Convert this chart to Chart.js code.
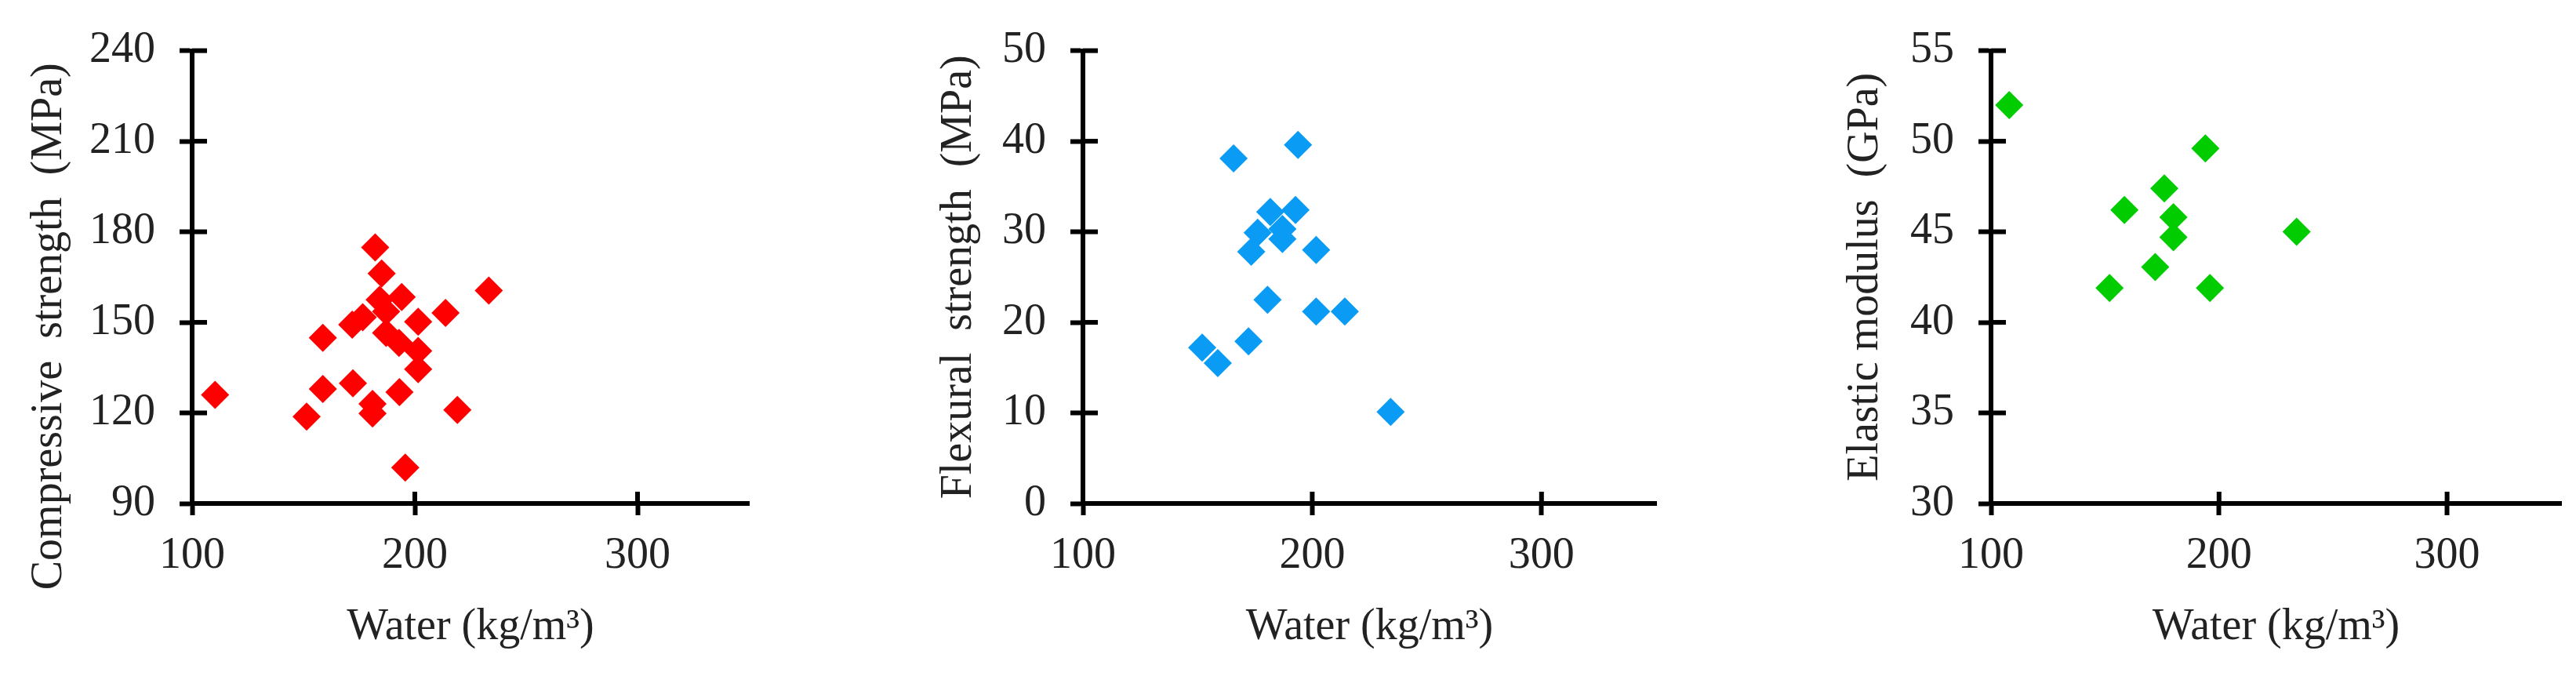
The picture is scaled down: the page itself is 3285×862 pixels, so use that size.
<!DOCTYPE html>
<html>
<head>
<meta charset="utf-8">
<script src="https://cdn.jsdelivr.net/npm/chart.js@4/dist/chart.umd.min.js"></script>
<style>
  html, body { margin: 0; padding: 0; background: #fff; }
  body { width: 3285px; height: 862px; position: relative; overflow: hidden; }
  .panel { position: absolute; top: 0; height: 862px; }
</style>
</head>
<body>
<div class="panel" id="p1" style="left:0px;width:1000px;"><canvas id="c1"></canvas></div>
<div class="panel" id="p2" style="left:1100px;width:1050px;"><canvas id="c2"></canvas></div>
<div class="panel" id="p3" style="left:2250px;width:1035px;"><canvas id="c3"></canvas></div>
<script>
// ---- Data ----
const xTicks = [100, 200, 300];
const xTitle = 'Water (kg/m³)';

const water1 = [110.3, 151.4, 158.7, 158.7, 172.2, 171.9, 176.6, 181.0, 181.0, 193.1, 195.7, 219.1,
                201.5, 201.5, 201.5, 213.8, 233.2, 187.1, 192.9, 182.2, 185.1, 184.2, 194.1, 187.1];
const compressive = [126.0, 118.8, 127.9, 144.9, 129.8, 149.2, 151.7, 123.0, 119.8, 126.9, 101.9, 121.0,
                     134.5, 140.5, 150.2, 153.1, 160.5, 146.5, 143.2, 174.8, 166.2, 157.5, 158.4, 153.6];
const yTicks1 = [90, 120, 150, 180, 210, 240];
// trailing no-break spaces keep the title placed lower, as in the reference
const yTitle1 = 'Compressive  strength  (MPa)\u00A0\u00A0\u00A0\u00A0\u00A0\u00A0\u00A0\u00A0\u00A0';

const water2 = [165.7, 193.8, 181.7, 192.7, 176.2, 187.0, 187.0, 173.4, 201.7, 180.5, 201.7, 214.2,
                172.2, 152.0, 158.8, 234.2];
const flexural = [38.1, 39.6, 32.2, 32.4, 29.9, 30.3, 29.2, 27.8, 28.0, 22.5, 21.2, 21.2,
                  17.9, 17.2, 15.5, 10.1];
const yTicks2 = [0, 10, 20, 30, 40, 50];
const yTitle2 = 'Flexural  strength  (MPa)';

const water3 = [108.0, 194.0, 176.0, 158.5, 180.0, 180.0, 234.0, 172.0, 152.0, 196.0];
const elastic = [52.0, 49.6, 47.4, 46.2, 45.8, 44.7, 45.0, 43.05, 41.9, 41.9];
const yTicks3 = [30, 35, 40, 45, 50, 55];
const yTitle3 = 'Elastic modulus  (GPa)';

const xMax = 350;

// ---- Styling ----
const FONT = '"Liberation Serif", "Times New Roman", serif';
const TEXT = '#222222';
const LINE = '#000000';

const innerTicks = {
  id: 'innerTicks',
  afterDraw(chart) {
    const ctx = chart.ctx;
    const area = chart.chartArea;
    ctx.save();
    ctx.strokeStyle = LINE;
    ctx.lineWidth = 6;
    const xs = chart.scales.x, ys = chart.scales.y;
    xs.ticks.forEach(t => {
      const px = xs.getPixelForValue(t.value);
      ctx.beginPath(); ctx.moveTo(px, area.bottom); ctx.lineTo(px, area.bottom - 15); ctx.stroke();
    });
    ys.ticks.forEach(t => {
      const py = ys.getPixelForValue(t.value);
      ctx.beginPath(); ctx.moveTo(area.left, py); ctx.lineTo(area.left + 19, py); ctx.stroke();
    });
    ctx.restore();
  }
};

function makeChart(id, xs, ys, yTicks, yTitle, color, padLeft, yWidth, padRight) {
  const pts = xs.map((x, i) => ({ x: x, y: ys[i] }));
  return new Chart(document.getElementById(id), {
    type: 'scatter',
    data: { datasets: [{ data: pts, pointStyle: 'rectRot', pointRadius: 18, pointHoverRadius: 18,
                         backgroundColor: color, borderWidth: 0 }] },
    options: {
      responsive: true, maintainAspectRatio: false, animation: false, devicePixelRatio: 1,
      layout: { padding: { left: padLeft, right: padRight, top: 53, bottom: 0 } },
      plugins: { legend: { display: false }, tooltip: { enabled: false } },
      scales: {
        x: {
          type: 'linear', min: xTicks[0], max: xMax,
          afterBuildTicks: s => { s.ticks = xTicks.map(v => ({ value: v })); },
          afterFit: s => { s.height = 220; },
          grid: { drawOnChartArea: false, drawTicks: true, tickLength: 15, tickWidth: 6, tickColor: LINE },
          border: { display: true, color: LINE, width: 6 },
          ticks: { padding: 19, color: TEXT, font: { family: FONT, size: 56 }, maxRotation: 0 },
          title: { display: true, text: xTitle, color: TEXT, font: { family: FONT, size: 56 },
                   padding: { top: 0, bottom: 28 } }
        },
        y: {
          type: 'linear', min: yTicks[0], max: yTicks[yTicks.length - 1],
          afterBuildTicks: s => { s.ticks = yTicks.map(v => ({ value: v })); },
          afterFit: s => { s.width = yWidth; },
          grid: { drawOnChartArea: false, drawTicks: true, tickLength: 16, tickWidth: 6, tickColor: LINE },
          border: { display: true, color: LINE, width: 6 },
          ticks: { padding: 31, color: TEXT, font: { family: FONT, size: 56 } },
          title: { display: true, text: yTitle, color: TEXT, font: { family: FONT, size: 56 },
                   padding: { top: 0, bottom: 0 } }
        }
      }
    },
    plugins: [innerTicks]
  });
}

makeChart('c1', water1, compressive, yTicks1, yTitle1, '#FF0000', 30, 215, 45);
makeChart('c2', water2, flexural, yTicks2, yTitle2, '#0A9BF5', 90, 191, 38);
makeChart('c3', water3, elastic, yTicks3, yTitle3, '#00CC00', 96, 193, 19);
</script>
</body>
</html>
